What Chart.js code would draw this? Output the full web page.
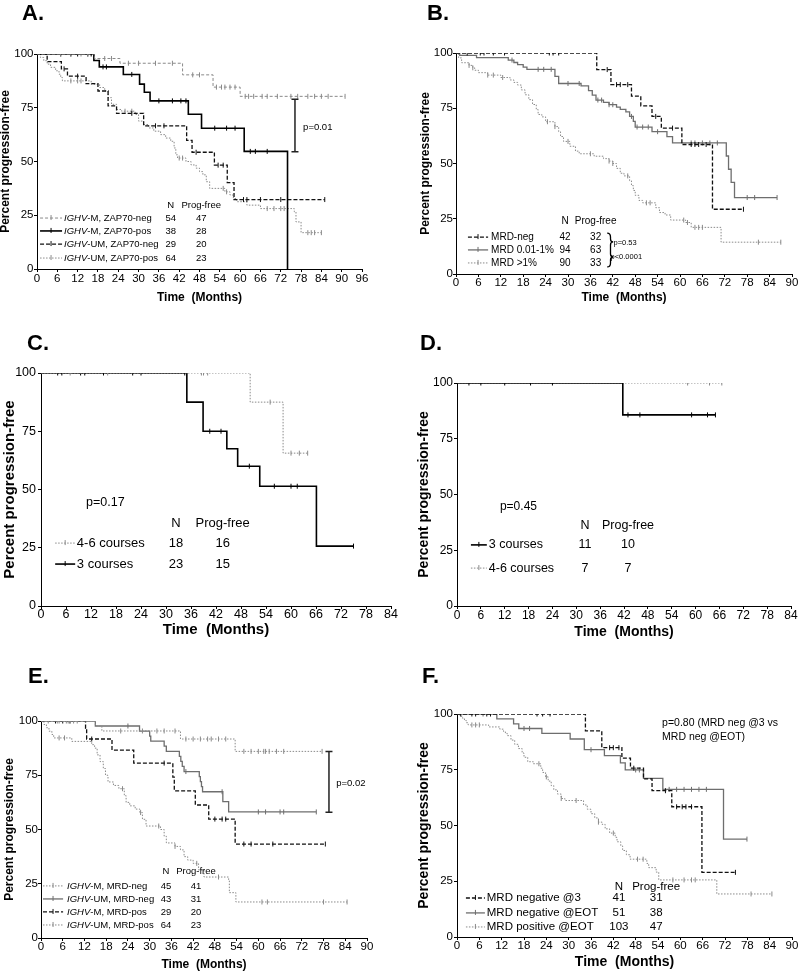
<!DOCTYPE html>
<html lang="en">
<head>
<meta charset="UTF-8">
<title>Progression-free survival, panels A-F</title>
<script src="https://cdn.jsdelivr.net/npm/chart.js"></script>
<style>
  body { margin: 0; background: #fff; }
  #page { position: relative; width: 800px; height: 972px; overflow: hidden; }
  .panel { position: absolute; }
  .letter { position: absolute; font: bold 22px "Liberation Sans", Arial, sans-serif; line-height: 22px; color: #000; }
</style>
</head>
<body>
<div id="page">
  <div class="panel" style="left:0;top:0;width:400px;height:320px"><canvas id="cA"></canvas></div>
  <div class="panel" style="left:400px;top:0;width:400px;height:320px"><canvas id="cB"></canvas></div>
  <div class="panel" style="left:0;top:320px;width:400px;height:320px"><canvas id="cC"></canvas></div>
  <div class="panel" style="left:400px;top:320px;width:400px;height:320px"><canvas id="cD"></canvas></div>
  <div class="panel" style="left:0;top:640px;width:400px;height:332px"><canvas id="cE"></canvas></div>
  <div class="panel" style="left:400px;top:640px;width:400px;height:332px"><canvas id="cF"></canvas></div>
  <div class="letter" style="left:22px;top:2px">A.</div>
  <div class="letter" style="left:427px;top:2px">B.</div>
  <div class="letter" style="left:27px;top:332px">C.</div>
  <div class="letter" style="left:420px;top:332px">D.</div>
  <div class="letter" style="left:28px;top:665px">E.</div>
  <div class="letter" style="left:422px;top:665px">F.</div>
</div>
<script>
// ---- data: Kaplan-Meier steps [month, % progression-free], censor times, legend tables ----

// A. IGHV / ZAP70
const A_labels = [['IGHV', '-M, ZAP70-neg'], ['IGHV', '-M, ZAP70-pos'], ['IGHV', '-UM, ZAP70-neg'], ['IGHV', '-UM, ZAP70-pos']];
const A_n = [54, 38, 29, 64];
const A_pf = [47, 28, 20, 23];
const A_mNeg = [[0,100],[17,97.9],[24.5,95.7],[43,90.3],[52,84.6],[60,80.3],[91,80.3]];
const A_mNegCens = [7,10,13,15,20,22,27,30,35,40,46,48,53,54.5,55.5,57,58.5,61.5,62.5,64,66.5,68,71,75,77,80,82,84,86,91];
const A_mPos = [[0,100],[16.8,97],[18.4,94],[25.5,90.5],[30.3,86],[31.7,82.2],[33.4,78.2],[44.7,72],[48.6,65.5],[61.2,54.7],[74,0]];
const A_mPosCens = [7,10,12,15,16,19.5,20.5,28,36,40,42.5,44,52.5,56,58.5,63,64.5,68];
const A_umNeg = [[0,100],[3,96.5],[7.2,93.1],[9,89.7],[14.5,86.2],[18,82.8],[21,75.9],[23.5,72.4],[31.5,66.6],[44.2,59.8],[45.8,54.3],[52.4,48.3],[56.2,40.2],[58.2,32.3],[85,32.3]];
const A_umNegCens = [8,12,28,35,37.5,47,53.5,55,61,62,66,72,85];
const A_umPos = [[0,100],[1,98.4],[2,96.9],[3,95.3],[4,93.8],[5.5,92.2],[6.5,90.6],[7,89.1],[7.5,87.5],[16,85.9],[18.5,84.4],[20,82.8],[21,79.7],[22,76.6],[23.5,74.2],[25,73.4],[29,71.9],[30,68.8],[31.5,67.2],[33,65.6],[34.5,64.1],[36.5,62.5],[38,60.9],[39.5,59.4],[40.5,56.3],[41,53.1],[41.5,51.6],[44,50],[45.5,48.4],[47,46.9],[48,45.3],[49,43.8],[50,40.6],[51,37.5],[55.5,35.9],[57,34.4],[58,32.8],[59,31.3],[62,29.7],[66,28.1],[76,26.6],[76.5,21.9],[78,16.9],[84,16.9]];
const A_umPosCens = [10,12,13,26,28,42,43,55,56,68,70,72,73,74,80,81,82,84];

// B. MRD level
const B_labels = [['', 'MRD-neg'], ['', 'MRD 0.01-1%'], ['', 'MRD >1%']];
const B_n = [42, 94, 90];
const B_pf = [32, 63, 33];
const B_neg = [[0,100],[37.7,92.5],[41.5,85.7],[47,80.5],[49.5,76.1],[52.5,71.3],[55,66],[60.5,58.6],[68.7,29.3],[77,29.3]];
const B_negCens = [3,6.5,7.5,10,13,25,26,27.5,40.5,43,44,46,53.5,58,63,64,65,67,77];
const B_mid = [[0,100],[1,98.9],[5.5,97.9],[14,96.8],[15.5,95.7],[16.5,94.7],[18,93.6],[19,92.6],[26.5,89.4],[27.5,86.2],[33.5,85.1],[35.5,83],[36.5,80.9],[37.5,78.7],[39.5,77.7],[41,76.6],[43,75.5],[44,74.5],[45.5,73.4],[46.5,71.3],[47.5,69.1],[48,66.5],[52.5,64.4],[56.5,62.2],[58,59.3],[72.4,53.4],[73,47.4],[73.7,41.5],[74.6,34.6],[86,34.6]];
const B_midCens = [15,22,23.5,25.5,30,33,38,39,41,42,47,48.5,50,51.5,54,63,64,66,68,70,78,80,86];
const B_pos = [[0,100],[0.7,97.8],[1.5,95.6],[3.5,94.4],[4.5,93.3],[5,92.2],[6,91.1],[8.5,90],[12,88.9],[14.5,87.8],[15.5,86.7],[16.5,85.5],[17.5,83.3],[18.5,81.1],[19.5,78.9],[20.5,76.7],[21.5,74.4],[22,72.2],[23,71.1],[24,68.9],[26.5,66.7],[27.5,64.4],[28,62.2],[28.8,60],[30.5,57.8],[32,55.6],[33,54.4],[37,53.3],[39.5,52.2],[41,51.1],[42,50],[43,47.8],[44,45.6],[45,44.4],[46.5,42.2],[47,40],[47.5,37.8],[48,35.6],[49,33.3],[50,32.2],[53.5,30],[54.5,27.8],[56,26.7],[57.5,24.4],[61.5,23.3],[63,21.1],[71,14.4],[87,14.4]];
const B_posCens = [3.5,4.5,8.5,10,12.5,24.5,26.5,30,36,41,42,46,51,52,61,62,64,65,66,81,87];

// C. courses, cohort 1
const C_labels = [['', '4-6 courses'], ['', '3 courses']];
const C_n = [18, 23];
const C_pf = [16, 15];
const C_46 = [[0,100],[50.2,87.5],[58.1,65.6],[64,65.6]];
const C_46Cens = [7,16,38.5,39,40,55,60,62,64];
const C_3 = [[0,100],[35,87.5],[38.9,75],[44.6,67.5],[47.2,60],[52.5,51.4],[66.1,25.7],[75,25.7]];
const C_3Cens = [4,5,9.5,10.5,15,22,24,34.5,40.5,43.2,50,56,60,61.5,75];

// D. courses, cohort 2
const D_labels = [['', '3 courses'], ['', '4-6 courses']];
const D_n = [11, 7];
const D_pf = [10, 7];
const D_3 = [[0,100],[41.7,85.7],[65,85.7]];
const D_3Cens = [3,6,12,18.5,24,43,46,59,63,65];
const D_46 = [[0,100],[66.6,100]];
const D_46Cens = [58,63.5,66.6];

// E. IGHV / MRD
const E_labels = [['IGHV', '-M, MRD-neg'], ['IGHV', '-UM, MRD-neg'], ['IGHV', '-M, MRD-pos'], ['IGHV', '-UM, MRD-pos']];
const E_n = [45, 43, 29, 64];
const E_pf = [41, 31, 20, 23];
const E_mNeg = [[0,100],[15,97.7],[16.8,95.4],[38.5,91.7],[53.6,86],[77.6,86]];
const E_mNegCens = [2,4.5,5,7,7.5,8,9,10,22,28,32,34,37,40,42,44,46,47,49,51,56,58,60,61.5,62,63,65,67,77.6];
const E_umNeg = [[0,100],[15,97.7],[27.2,95.3],[30,93],[30.3,90.7],[34,88.4],[34.6,86],[38.2,83.7],[38.6,81.4],[39,79.1],[39.5,76.7],[43.7,74.4],[44,72.1],[44.3,69.8],[44.6,67.4],[50.2,62.8],[51.8,58.1],[76,58.1]];
const E_umNegCens = [24,40,50,60,62,66,67,76];
const E_mPos = [[0,100],[12.3,96.6],[12.6,91.7],[19.6,86.6],[25.6,80.6],[36.4,74.1],[36.8,67.8],[42.6,61.3],[46.3,54.8],[53.6,43.3],[78.5,43.3]];
const E_mPosCens = [4,6,8,14,34,48,50,51,56,58,64,78.5];
const E_umPos = [[0,100],[0.8,98.4],[1.5,96.9],[2.2,95.3],[3,93.8],[3.5,92.2],[8.5,90.6],[14,89.1],[14.8,87.5],[15.5,84.4],[16.3,81.3],[17.2,78.1],[17.8,75],[18.5,71.9],[20,70.3],[21.5,68.8],[23,65.6],[23.5,62.5],[24.5,60.9],[26,59.4],[27.3,57.8],[28,54.7],[29,51.6],[33,50],[34,46.9],[34.6,43.8],[37,42.2],[38.5,40.6],[39.5,37.5],[40.5,35.9],[42,34.4],[43.5,31.3],[45,28.1],[51.8,26.6],[52,20.9],[53.8,16.6],[84.5,16.6]];
const E_umPosCens = [5,6.5,22.5,27.5,32.5,37,43,49,61,62.5,78,84.5];

// F. MRD timing
const F_labels = [['', 'MRD negative @3'], ['', 'MRD negative @EOT'], ['', 'MRD positive @EOT']];
const F_n = [41, 51, 103];
const F_pf = [31, 38, 47];
const F_neg3 = [[0,100],[34.5,92.4],[38.9,84.9],[44.3,80.2],[46.6,75.7],[50.1,70.9],[52.4,65.6],[57.7,58.4],[65.8,29],[74.8,29]];
const F_neg3Cens = [1,4,5,8,9,21.5,23,25,41,42,43.5,47.5,56,59,60.5,61.5,63,74.8];
const F_negEot = [[0,100],[10.7,97.8],[15.2,95.6],[16.6,93.5],[22.8,91.3],[30.4,88.8],[34.2,84],[39.6,81.3],[43.9,78.1],[45.2,74.9],[50.1,71.1],[55.3,66.2],[71.6,43.9],[77.9,43.9]];
const F_negEotCens = [7,18,19.5,36,48,49,57,59,61,63,65,67,77.9];
const F_posEot = [[0,100],[0.8,99],[1.5,98.1],[2,97.1],[2.5,96.1],[3,95.1],[8.5,94.2],[11.5,93.2],[12.5,92.2],[13,91.3],[13.5,90.3],[14.5,88.3],[15.5,86.4],[16.5,84.5],[17.5,82.5],[18,80.6],[19,78.6],[20.5,77.7],[22.5,75.7],[23,73.8],[23.8,71.8],[24.5,69.9],[25.3,67.9],[26,66],[27,64.1],[28,62.1],[29,61.2],[34,59.2],[35,57.3],[36,55.3],[37,53.4],[38,51.5],[39,50.5],[39.8,48.5],[41,46.6],[42.5,44.7],[43,42.7],[44,40.8],[44.5,38.8],[45.5,36.9],[46.5,34.9],[51,33],[51.5,31.1],[53.5,29.1],[54.2,25.6],[69.8,19.3],[84.6,19.3]];
const F_posEotCens = [4,5,6,22,24,28,32,38,42,48.5,50,58,61,63,64,79,84.6];

// ---- drawing ----
const FONT = '"Liberation Sans", Arial, Helvetica, sans-serif';
const STYLES = {
  blackSolid: { color: '#000', width: 1.6, dash: [] },
  blackDash:  { color: '#111', width: 1.3, dash: [4, 2] },
  graySolid:  { color: '#6e6e6e', width: 1.3, dash: [] },
  grayDash:   { color: '#8a8a8a', width: 1, dash: [3, 2] },
  grayDot:    { color: '#8a8a8a', width: 1, dash: [1.5, 1.5] }
};

function levelAt(steps, t) {
  let s = steps[0][1];
  steps.forEach(p => { if (p[0] <= t) s = p[1]; });
  return s;
}

function notes(p) {
  return {
    id: 'notes' + p.id,
    afterDatasetsDraw(chart) {
      const ctx = chart.ctx;
      const X = v => chart.scales.x.getPixelForValue(v);
      const Y = v => chart.scales.y.getPixelForValue(v);
      const L = p.legend;
      ctx.save();
      ctx.fillStyle = '#000';
      ctx.textBaseline = 'middle';
      ctx.font = L.size + 'px ' + FONT;
      ctx.textAlign = 'center';
      ctx.fillText('N', X(L.nX), Y(L.headY));
      ctx.fillText('Prog-free', X(L.pfX), Y(L.headY));
      L.order.forEach((si, i) => {
        const st = STYLES[p.series[si].style];
        const y = Y(L.rowY[i]);
        const x0 = X(L.sample[0]), x1 = X(L.sample[1]);
        ctx.strokeStyle = st.color;
        ctx.lineWidth = st.width;
        ctx.setLineDash(st.dash);
        ctx.beginPath(); ctx.moveTo(x0, y); ctx.lineTo(x1, y); ctx.stroke();
        ctx.setLineDash([]);
        ctx.lineWidth = 1;
        const mx = (x0 + x1) / 2;
        ctx.beginPath(); ctx.moveTo(mx, y - 3); ctx.lineTo(mx, y + 2); ctx.stroke();
        let tx = X(L.textX);
        ctx.textAlign = 'left';
        const [it, rest] = L.labels[i];
        if (it) {
          ctx.font = 'italic ' + L.size + 'px ' + FONT;
          ctx.fillText(it, tx, y);
          tx += ctx.measureText(it).width;
        }
        ctx.font = L.size + 'px ' + FONT;
        ctx.fillText(rest, tx, y);
        ctx.textAlign = 'center';
        ctx.fillText(String(L.n[i]), X(L.nX), y);
        ctx.fillText(String(L.pf[i]), X(L.pfX), y);
      });
      (p.texts || []).forEach(t => {
        ctx.font = t.size + 'px ' + FONT;
        ctx.textAlign = 'left';
        ctx.fillText(t.text, X(t.x), Y(t.y));
      });
      if (p.bracket) {
        const b = p.bracket, bx = X(b.x);
        ctx.strokeStyle = '#222';
        ctx.lineWidth = 1.5;
        ctx.beginPath();
        ctx.moveTo(bx, Y(b.y0)); ctx.lineTo(bx, Y(b.y1));
        ctx.moveTo(bx - 3.5, Y(b.y0)); ctx.lineTo(bx + 3.5, Y(b.y0));
        ctx.moveTo(bx - 3.5, Y(b.y1)); ctx.lineTo(bx + 3.5, Y(b.y1));
        ctx.stroke();
      }
      if (p.brace) {
        const b = p.brace, x0 = X(b.x), w = 6, xm = x0 + w * 0.55;
        const yt = Y(b.top), y1 = Y(b.tip1), y2 = Y(b.tip2), yb = Y(b.bottom);
        ctx.strokeStyle = '#000';
        ctx.lineWidth = 1.3;
        ctx.beginPath();
        ctx.moveTo(x0, yt);
        ctx.quadraticCurveTo(xm, yt, xm, yt + 4);
        ctx.lineTo(xm, y1 - 3);
        ctx.quadraticCurveTo(xm, y1, x0 + w, y1);
        ctx.quadraticCurveTo(xm, y1, xm, y1 + 3);
        ctx.lineTo(xm, y2 - 3);
        ctx.quadraticCurveTo(xm, y2, x0 + w, y2);
        ctx.quadraticCurveTo(xm, y2, xm, y2 + 3);
        ctx.lineTo(xm, yb - 4);
        ctx.quadraticCurveTo(xm, yb, x0, yb);
        ctx.stroke();
      }
      ctx.restore();
    }
  };
}

function buildPanel(p) {
  const datasets = [];
  p.series.forEach(s => {
    const st = STYLES[s.style];
    datasets.push({
      data: s.steps.map(([x, y]) => ({ x, y })),
      stepped: true, fill: false, pointRadius: 0,
      borderColor: st.color, borderWidth: st.width, borderDash: st.dash
    });
    datasets.push({
      data: s.cens.map(t => ({ x: t, y: levelAt(s.steps, t) })),
      showLine: false, pointStyle: 'line', rotation: 90, pointRadius: 2.5,
      borderColor: st.color, backgroundColor: st.color, borderWidth: 1
    });
  });
  const a = p.area;
  const axisGrid = { drawOnChartArea: false, drawTicks: true, tickLength: 3, color: '#000', lineWidth: 1 };
  new Chart(document.getElementById(p.id), {
    type: 'line',
    data: { datasets },
    options: {
      responsive: true,
      maintainAspectRatio: false,
      animation: false,
      events: [],
      layout: { padding: { left: 0, top: a.top, right: p.w - a.right, bottom: p.h - a.bottom - p.xAxisH } },
      plugins: { legend: { display: false }, tooltip: { enabled: false } },
      scales: {
        x: {
          type: 'linear', min: 0, max: p.xMax,
          ticks: { stepSize: 6, color: '#000', padding: p.xPad, maxRotation: 0, autoSkip: false,
                   font: { family: FONT, size: p.tick } },
          grid: axisGrid,
          border: { color: '#000', width: 1 },
          title: { display: true, text: 'Time  (Months)', color: '#000', padding: 0,
                   font: { family: FONT, size: p.title, weight: 'bold', lineHeight: 1 } },
          afterFit: s => { s.height = p.xAxisH; }
        },
        y: {
          min: 0, max: 100,
          ticks: { stepSize: 25, color: '#000', padding: p.yPad, font: { family: FONT, size: p.tick } },
          grid: axisGrid,
          border: { color: '#000', width: 1 },
          title: { display: true, text: 'Percent progression-free', color: '#000', padding: { top: p.yTitlePad, bottom: 0 },
                   font: { family: FONT, size: p.title, weight: 'bold', lineHeight: 1 } },
          afterFit: s => { s.width = a.left; }
        }
      }
    },
    plugins: [notes(p)]
  });
}

const panels = [
  { id: 'cA', w: 400, h: 320, area: { left: 37, top: 54, right: 362, bottom: 269 }, xMax: 96,
    tick: 11.5, title: 12, yTitlePad: 0, xPad: 0, yPad: 0.5, xAxisH: 35,
    series: [
      { steps: A_mNeg, cens: A_mNegCens, style: 'grayDash' },
      { steps: A_mPos, cens: A_mPosCens, style: 'blackSolid' },
      { steps: A_umNeg, cens: A_umNegCens, style: 'blackDash' },
      { steps: A_umPos, cens: A_umPosCens, style: 'grayDot' }
    ],
    legend: { size: 9.5, sample: [0.9, 7.4], textX: 8.0, nX: 39.5, pfX: 48.5, headY: 29.8,
              rowY: [23.7, 17.7, 11.6, 5.1], order: [0, 1, 2, 3], labels: A_labels, n: A_n, pf: A_pf },
    texts: [{ text: 'p=0.01', x: 78.6, y: 66, size: 9.5 }],
    bracket: { x: 76.2, y0: 79, y1: 54.5 } },
  { id: 'cB', w: 400, h: 320, area: { left: 56, top: 53, right: 392, bottom: 274 }, xMax: 90,
    tick: 11.5, title: 12, yTitlePad: 20, xPad: -1.5, yPad: 0, xAxisH: 30,
    series: [
      { steps: B_neg, cens: B_negCens, style: 'blackDash' },
      { steps: B_mid, cens: B_midCens, style: 'graySolid' },
      { steps: B_pos, cens: B_posCens, style: 'grayDot' }
    ],
    legend: { size: 10, sample: [3.2, 8.6], textX: 9.4, nX: 29.2, pfX: 37.4, headY: 24,
              rowY: [16.7, 10.9, 5.0], order: [0, 1, 2], labels: B_labels, n: B_n, pf: B_pf },
    texts: [{ text: 'p=0.53', x: 42.2, y: 14, size: 7.5 }, { text: 'p<0.0001', x: 41.4, y: 7.7, size: 7.5 }],
    brace: { x: 40.5, top: 18.5, tip1: 14.5, tip2: 7.7, bottom: 3.2 } },
  { id: 'cC', w: 400, h: 320, area: { left: 41, top: 53, right: 391, bottom: 286 }, xMax: 84,
    tick: 12.5, title: 15, yTitlePad: 2.5, xPad: -1.5, yPad: 2, xAxisH: 31.5,
    series: [
      { steps: C_46, cens: C_46Cens, style: 'grayDot' },
      { steps: C_3, cens: C_3Cens, style: 'blackSolid' }
    ],
    legend: { size: 13, sample: [3.4, 8.2], textX: 8.6, nX: 32.4, pfX: 43.6, headY: 35.6,
              rowY: [27, 18], order: [0, 1], labels: C_labels, n: C_n, pf: C_pf },
    texts: [{ text: 'p=0.17', x: 10.8, y: 44.2, size: 12.5 }] },
  { id: 'cD', w: 400, h: 320, area: { left: 57, top: 63, right: 391, bottom: 286 }, xMax: 84,
    tick: 12, title: 14, yTitlePad: 17, xPad: -1, yPad: 1, xAxisH: 33,
    series: [
      { steps: D_3, cens: D_3Cens, style: 'blackSolid' },
      { steps: D_46, cens: D_46Cens, style: 'grayDot' }
    ],
    legend: { size: 12.5, sample: [3.5, 7.5], textX: 8.0, nX: 32.2, pfX: 43, headY: 35.9,
              rowY: [27.4, 17], order: [0, 1], labels: D_labels, n: D_n, pf: D_pf },
    texts: [{ text: 'p=0.45', x: 10.8, y: 44.4, size: 12 }] },
  { id: 'cE', w: 400, h: 332, area: { left: 41, top: 81, right: 367, bottom: 298 }, xMax: 90,
    tick: 11.5, title: 12, yTitlePad: 4, xPad: -1.5, yPad: 0, xAxisH: 33,
    series: [
      { steps: E_mNeg, cens: E_mNegCens, style: 'grayDot' },
      { steps: E_umNeg, cens: E_umNegCens, style: 'graySolid' },
      { steps: E_mPos, cens: E_mPosCens, style: 'blackDash' },
      { steps: E_umPos, cens: E_umPosCens, style: 'grayDot' }
    ],
    legend: { size: 9.5, sample: [0.55, 6.1], textX: 7.2, nX: 34.5, pfX: 42.8, headY: 30.9,
              rowY: [24, 18, 12, 6], order: [0, 1, 2, 3], labels: E_labels, n: E_n, pf: E_pf },
    texts: [{ text: 'p=0.02', x: 81.5, y: 71.4, size: 9.5 }],
    bracket: { x: 79.5, y0: 86, y1: 58 } },
  { id: 'cF', w: 400, h: 332, area: { left: 57, top: 74, right: 392, bottom: 297 }, xMax: 90,
    tick: 11.5, title: 14, yTitlePad: 17, xPad: -1, yPad: 1, xAxisH: 32,
    series: [
      { steps: F_neg3, cens: F_neg3Cens, style: 'blackDash' },
      { steps: F_negEot, cens: F_negEotCens, style: 'graySolid' },
      { steps: F_posEot, cens: F_posEotCens, style: 'grayDot' }
    ],
    legend: { size: 11.5, sample: [2.4, 7.5], textX: 8.0, nX: 43.5, pfX: 53.5, headY: 22.4,
              rowY: [17.5, 10.8, 4.5], order: [0, 1, 2], labels: F_labels, n: F_n, pf: F_pf },
    texts: [{ text: 'p=0.80 (MRD neg @3 vs', x: 55.1, y: 96, size: 10.5 },
            { text: 'MRD neg @EOT)', x: 55.1, y: 89.7, size: 10.5 }] }
];

panels.forEach(buildPanel);
</script>
</body>
</html>
